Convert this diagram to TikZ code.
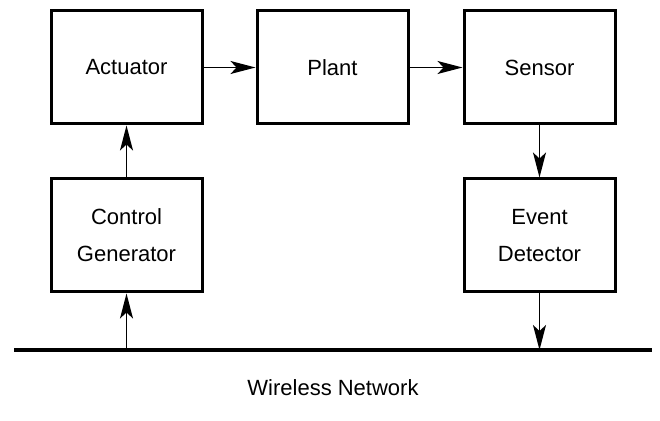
\documentclass[tikz,border=0pt]{standalone}
\usepackage{fontspec}
\setmainfont{Liberation Sans}
\usetikzlibrary{positioning,arrows.meta}

\begin{document}
\begin{tikzpicture}[
  x=0.5pt, y=-0.5pt,
  font=\fontsize{11}{18.5}\selectfont,
  node distance=26pt and 26pt,
  blk/.style={draw=black, line width=1.5pt, minimum width=75.5pt,
              minimum height=56.5pt, align=center, inner sep=2pt},
  arr/.style={-{Stealth[length=12.5pt, width=6.5pt, inset=3pt]}, line width=0.7pt},
  bus/.style={line width=1.6pt}
]
\useasboundingbox (0,0) rectangle (660,421);

% ---- loop blocks ----
\node[blk] (act) at (126.5,67.5) {Actuator};
\node[blk, right=26pt of act] (plant) {Plant};
\node[blk, right=26.5pt of plant] (sens) {Sensor};
\node[blk, below=26pt of act] (ctrl) {Control\\ Generator};
\node[blk, below=26pt of sens] (evt) {Event\\ Detector};

% ---- network ----
\coordinate (busL) at (14,350);
\coordinate (busR) at (652,350);
\draw[bus] (busL) -- (busR);
\node (net) at (333,388) {Wireless Network};

% ---- arrows ----
\draw[arr] (act) -- (plant);
\draw[arr] (plant) -- (sens);
\draw[arr] (sens) -- (evt);
\draw[arr] (ctrl) -- (act);
\draw[arr] (ctrl.south|-busL) -- (ctrl.south);
\draw[arr] (evt.south) -- (evt.south|-busL);
\end{tikzpicture}
\end{document}
